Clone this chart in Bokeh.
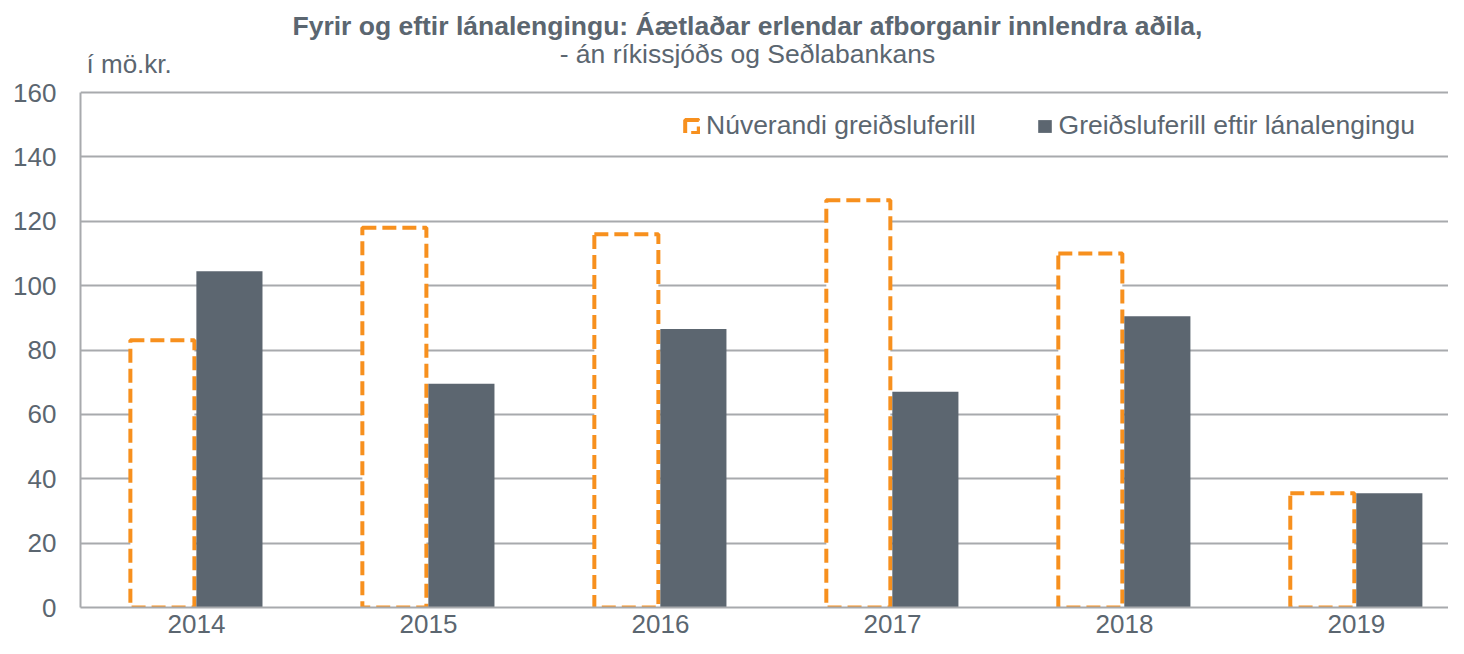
from bokeh.plotting import figure
from bokeh.models import (Label, Legend, LegendItem, FixedTicker, ColumnDataSource, Range1d)
from bokeh.transform import dodge
from bokeh.embed import file_html
from bokeh.resources import INLINE

# ---- data ----
years = ["2014", "2015", "2016", "2017", "2018", "2019"]
current_schedule = [83, 118, 116, 126.5, 110, 35.5]      # Núverandi greiðsluferill
after_extension = [104.5, 69.5, 86.5, 67, 90.5, 35.5]   # Greiðsluferill eftir lánalengingu
y_ticks = [0, 20, 40, 60, 80, 100, 120, 140, 160]

title_text = "Fyrir og eftir lánalengingu: Áætlaðar erlendar afborganir innlendra aðila,"
subtitle_text = "- án ríkissjóðs og Seðlabankans"
unit_text = "í mö.kr."
series_names = ["Núverandi greiðsluferill", "Greiðsluferill eftir lánalengingu"]

TEXT = "#5b6670"
ORANGE = "#f7901e"
DARK = "#5c6670"
GRID = "#a8aaad"
FONT = "Liberation Sans"

Y_MAX = y_ticks[-1]
# frame runs to the top of the canvas so that the header texts sit inside it
FIG_H, BORDER_BOTTOM, PLOT_TOP = 638, 31, 92
frame_h = FIG_H - BORDER_BOTTOM
y_end = Y_MAX * frame_h / (frame_h - PLOT_TOP)

idx = list(range(len(years)))
src = ColumnDataSource(dict(x=idx, cur=current_schedule, aft=after_extension))

p = figure(width=1448, height=FIG_H, output_backend="svg", toolbar_location=None,
           x_range=Range1d(-0.5, 5.397), y_range=Range1d(0, y_end),
           min_border_left=80, min_border_top=0, min_border_bottom=BORDER_BOTTOM,
           min_border_right=0, outline_line_color=None)
p.title.visible = False

r_cur = p.vbar(x=dodge("x", -0.147, range=p.x_range), top="cur", bottom=0, width=0.276,
               source=src, fill_color="white", line_color=ORANGE, line_width=4,
               line_dash="14 6")
r_aft = p.vbar(x=dodge("x", 0.142, range=p.x_range), top="aft", bottom=0, width=0.285,
               source=src, fill_color=DARK, line_color=None)

# axes
p.xaxis.ticker = FixedTicker(ticks=idx)
p.xaxis.major_label_overrides = {i: y for i, y in zip(idx, years)}
p.xaxis.major_tick_line_color = None
p.xaxis.minor_tick_line_color = None
p.xaxis.axis_line_color = GRID
p.xaxis.axis_line_width = 2
p.xaxis.major_label_text_font = FONT
p.xaxis.major_label_text_font_size = "26px"
p.xaxis.major_label_text_color = TEXT
p.xaxis.major_label_standoff = 1

p.yaxis.ticker = FixedTicker(ticks=y_ticks)
p.yaxis.bounds = (0, Y_MAX)
p.yaxis.major_tick_line_color = None
p.yaxis.minor_tick_line_color = None
p.yaxis.axis_line_color = GRID
p.yaxis.axis_line_width = 2
p.yaxis.major_label_text_font = FONT
p.yaxis.major_label_text_font_size = "26px"
p.yaxis.major_label_text_color = TEXT
p.yaxis.major_label_standoff = 18

p.xgrid.grid_line_color = None
p.ygrid.grid_line_color = GRID
p.ygrid.grid_line_width = 2

# legend
legend = Legend(items=[LegendItem(label=series_names[0], renderers=[r_cur]),
                       LegendItem(label=series_names[1], renderers=[r_aft])],
                orientation="horizontal", location=(603, 466),
                border_line_color=None, background_fill_alpha=0,
                label_text_font=FONT, label_text_font_size="26.5px", label_text_color=TEXT,
                glyph_width=17, glyph_height=16, spacing=60, padding=0, margin=0,
                label_standoff=6)
p.add_layout(legend)

# header texts (data coordinates above the 160 gridline)
px_per_unit = (frame_h - PLOT_TOP) / Y_MAX
def y_at(page_y):
    return (frame_h - page_y) / px_per_unit

p.add_layout(Label(x=2.375, y=y_at(25), text=title_text,
                   text_font=FONT, text_font_style="bold", text_font_size="26.5px",
                   text_color=TEXT, text_align="center", text_baseline="middle"))
p.add_layout(Label(x=2.375, y=y_at(53), text=subtitle_text,
                   text_font=FONT, text_font_size="26.5px",
                   text_color=TEXT, text_align="center", text_baseline="middle"))
p.add_layout(Label(x=-0.474, y=y_at(63), text=unit_text,
                   text_font=FONT, text_font_size="26px",
                   text_color=TEXT, text_align="left", text_baseline="middle"))

open("out.html", "w").write(file_html(p, INLINE))
